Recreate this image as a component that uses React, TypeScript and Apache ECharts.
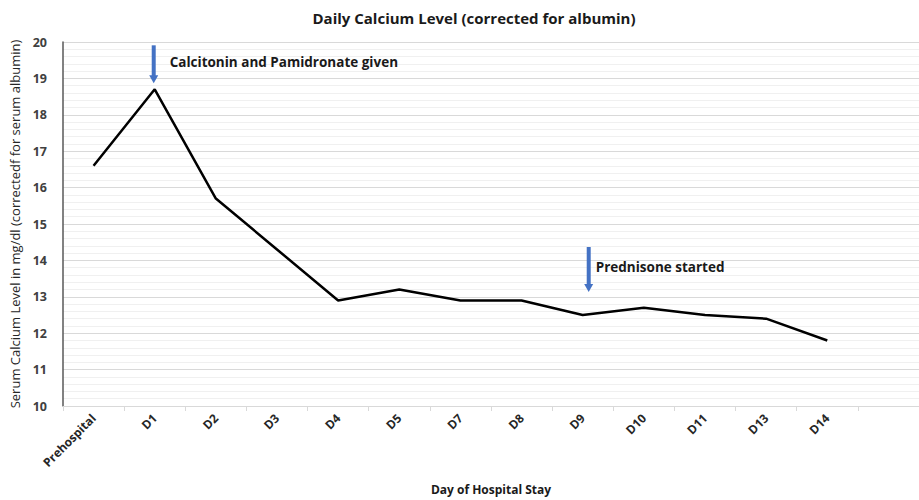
import React, { useEffect, useRef } from "react";
import * as echarts from "echarts";

const categories = ["Prehospital", "D1", "D2", "D3", "D4", "D5", "D7", "D8", "D9", "D10", "D11", "D13", "D14", ""];
const calcium: (number | null)[] = [16.6, 18.7, 15.7, 14.3, 12.9, 13.2, 12.9, 12.9, 12.5, 12.7, 12.5, 12.4, 11.8, null];
const yTicks = { min: 10, max: 20, interval: 1 };
const annotations = [
  { category: "D1", value: 18.7, text: "Calcitonin and Pamidronate given" },
  { category: "D9", value: 12.5, text: "Prednisone started" },
];

const FONT = "'Open Sans', Lato, sans-serif";

export default function App() {
  const ref = useRef<HTMLDivElement>(null);
  useEffect(() => {
    document.body.style.margin = "0";
    const chart = echarts.init(ref.current!, null, { renderer: "svg" });
    chart.setOption({
      animation: false,
      backgroundColor: "#ffffff",
      title: {
        text: "Daily Calcium Level (corrected for albumin)",
        left: 469,
        top: 5,
        textAlign: "center",
        textStyle: { fontFamily: FONT, fontSize: 15, fontWeight: "bold", color: "#1a1a1a" },
      },
      grid: { left: 60, top: 42, height: 364, width: 868, containLabel: false },
      xAxis: {
        type: "category",
        data: categories,
        boundaryGap: true,
        name: "Day of Hospital Stay",
        nameLocation: "middle",
        nameGap: 77,
        nameTextStyle: { fontFamily: FONT, fontSize: 12, fontWeight: "bold", color: "#1a1a1a" },
        axisLine: { show: true, lineStyle: { color: "#d9d9d9", width: 1 } },
        axisTick: { show: true, length: 5, lineStyle: { color: "#d9d9d9" } },
        axisLabel: {
          rotate: 45,
          margin: 10,
          fontFamily: FONT,
          fontSize: 12,
          fontWeight: "bold",
          color: "#262626",
        },
        splitLine: { show: false },
      },
      yAxis: {
        type: "value",
        min: yTicks.min,
        max: yTicks.max,
        interval: yTicks.interval,
        name: "Serum Calcium Level in mg/dl (correctedf for serum albumin)",
        nameLocation: "middle",
        nameGap: 42,
        nameTextStyle: { fontFamily: FONT, fontSize: 13, color: "#262626" },
        axisLine: { show: true, lineStyle: { color: "#595959", width: 1.5 } },
        axisTick: { show: false },
        axisLabel: {
          margin: 16,
          fontFamily: FONT,
          fontSize: 12.5,
          fontWeight: "bold",
          color: "#404040",
        },
        splitLine: { show: true, lineStyle: { color: "#d9d9d9", width: 1 } },
        minorTick: { show: false, splitNumber: 5 },
        minorSplitLine: { show: true, lineStyle: { color: "#f0f0f0", width: 1 } },
      },
      series: [
        {
          type: "line",
          data: calcium,
          symbol: "none",
          lineStyle: { color: "#000000", width: 2.5 },
          connectNulls: false,
        },
      ],
    });

    const graphics: any[] = [];
    annotations.forEach((a, i) => {
      const [px, py] = chart.convertToPixel({ gridIndex: 0 }, [a.category, a.value]) as number[];
      const x = px + (i === 1 ? 6 : -1);
      const bottom = py - (i === 1 ? 23 : 6);
      const top = bottom - (i === 1 ? 45 : 38);
      graphics.push({
        type: "rect",
        shape: { x: x - 2, y: top, width: 4, height: bottom - top - 7 },
        style: { fill: "#4472C4" },
      });
      graphics.push({
        type: "polygon",
        shape: { points: [[x - 4.5, bottom - 8], [x + 4.5, bottom - 8], [x, bottom]] },
        style: { fill: "#4472C4" },
      });
      graphics.push({
        type: "text",
        x: x + (i === 1 ? 7 : 16),
        y: top + (i === 1 ? 20 : 17),
        style: {
          text: a.text,
          fontFamily: FONT,
          fontSize: 13.5,
          fontWeight: "bold",
          fill: "#1a1a1a",
          verticalAlign: "middle",
          textAlign: "left",
        },
      });
    });
    chart.setOption({ graphic: graphics });

    return () => chart.dispose();
  }, []);
  return <div ref={ref} style={{ width: 919, height: 500 }} />;
}
